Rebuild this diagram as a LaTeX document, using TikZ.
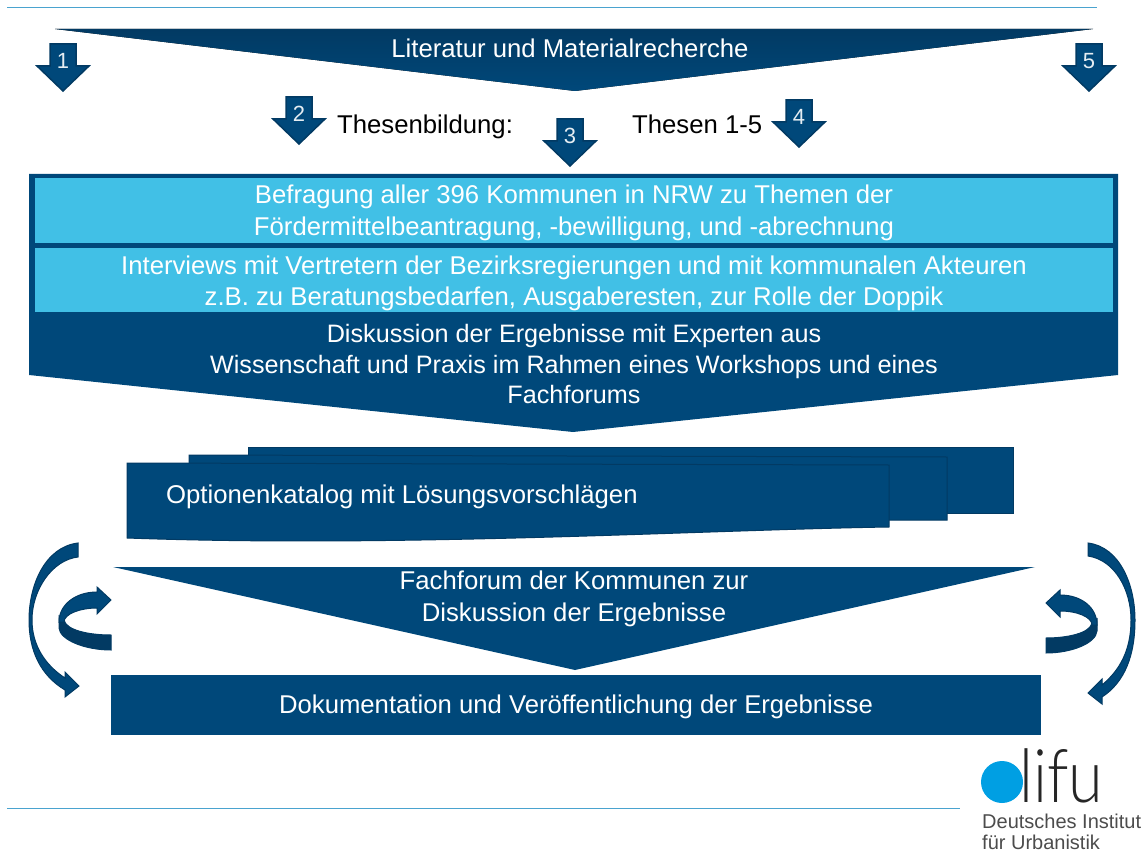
\documentclass[tikz,border=0pt]{standalone}
\usepackage{fontspec}
\setmainfont{Liberation Sans}
\newfontfamily\logofont{Lato Light}
\definecolor{navy}{HTML}{00487A}
\definecolor{navydark}{HTML}{023A63}
\definecolor{skyfill}{HTML}{41C0E6}
\definecolor{ruleblue}{HTML}{4AA3CF}
\definecolor{logoblue}{HTML}{009FE3}
\tikzset{
	banner/.style={fill=navy},
	bannertext/.style={text=white,align=center,font=\fontsize{25.7}{31.3}\selectfont,inner sep=0pt},
	blacktext/.style={text=black,font=\fontsize{25.7}{31.3}\selectfont,inner sep=0pt},
	numarrow/.style={fill=navy,draw=navydark,line width=1.5pt,line join=miter},
	numtext/.style={text=white!90!navy,font=\fontsize{22}{22}\selectfont,inner sep=0pt},
	swoosh/.style={fill=navy,draw=navydark,line width=1pt},
	swooshback/.style={fill=navydark,draw=navydark,line width=1pt},
	pagerule/.style={draw=ruleblue,line width=1pt},
	sheet/.style={fill=navy,draw=navydark,line width=1pt}
}
\begin{document}
\begin{tikzpicture}[x=1pt,y=-1pt]
	\useasboundingbox (0,0) rectangle (1143,853);
	\draw[pagerule] (7,8) -- (1097,8);
	\draw[pagerule] (7,808) -- (960,808);
	% top banner
	\fill[top color=navydark,bottom color=navy] (55,29) -- (1093,29) -- (575,91) -- cycle;
	\node[bannertext] (litnode) at (570,48) {Literatur und Materialrecherche};
	% numbered arrows
	\foreach \cx/\ty/\nr in {63/43/1,299/96/2,570/118/3,799/99/4,1089/43/5}{
		\draw[numarrow] (\cx-13,\ty+1) -- (\cx+13,\ty+1) -- (\cx+13,\ty+23) -- (\cx+26,\ty+23) -- (\cx,\ty+48) -- (\cx-26,\ty+23) -- (\cx-13,\ty+23) -- cycle;
		\node[numtext] (arrow\nr) at (\cx,\ty+18) {\nr};
	}
	\node[blacktext,anchor=west] (thesenbildung) at (337,127) {Thesenbildung:};
	\node[blacktext,anchor=west] (thesenlist) at (632,124) {Thesen 1-5};
	% survey block
	\fill[navy] (29,174) -- (1118,174) -- (1118,375) -- (573,432) -- (29,375) -- cycle;
	\fill[skyfill] (35,178) rectangle (1113,243);
	\fill[skyfill] (35,248) rectangle (1113,312);
	\node[bannertext] (befragung) at (574,213) {Befragung aller 396 Kommunen in NRW zu Themen der\\Fördermittelbeantragung, -bewilligung, und -abrechnung};
	\node[bannertext] (interviews) at (574,283.5) {Interviews mit Vertretern der Bezirksregierungen und mit kommunalen Akteuren\\z.B. zu Beratungsbedarfen, Ausgaberesten, zur Rolle der Doppik};
	\node[bannertext,font=\fontsize{25.2}{30.5}\selectfont] (diskussion) at (574,364) {Diskussion der Ergebnisse mit Experten aus\\Wissenschaft und Praxis im Rahmen eines Workshops und eines\\Fachforums};
	% stacked sheets
	\fill[sheet] (248,447) -- (1013,447) -- (1013,513) -- (248,513) -- cycle;
	\draw[sheet] (189,455) -- (947,457) -- (947,520) -- (189,520) -- cycle;
	\draw[sheet] (127,463) -- (889,465) -- (889,527) .. controls (700,530) and (400,548) .. (127,538) -- cycle;
	\node[bannertext,anchor=west] (optionen) at (166,497) {Optionenkatalog mit Lösungsvorschlägen};
	% lower banner
	\fill[banner] (113,567) -- (1035,567) -- (575,670) -- cycle;
	\node[bannertext] (fachforum) at (574,599) {Fachforum der Kommunen zur\\Diskussion der Ergebnisse};
	\fill[banner] (111,675) rectangle (1041,735);
	\node[bannertext] (doku) at (576,707) {Dokumentation und Veröffentlichung der Ergebnisse};
	% left swooshes
	\draw[swoosh] (78,543) .. controls (45,547) and (29,585) .. (29,620) .. controls (29,650) and (40,675) .. (65,690) -- (65,697) -- (79,686) -- (65,672) -- (65,678) .. controls (45,665) and (32,645) .. (32,620) .. controls (32,590) and (52,560) .. (78,557) -- cycle;
	\draw[swooshback] (59,616) -- (59,628) .. controls (60,640) and (85,650) .. (111,650) -- (111,635) .. controls (88,635) and (66,630) .. (64,620) -- cycle;
	\draw[swoosh] (59,622) .. controls (59,605) and (75,592) .. (97,592) -- (97,587) -- (111,600) -- (97,614) -- (97,608) .. controls (80,608) and (64,614) .. (64,622) -- cycle;
	% right swooshes
	\draw[swoosh] (1088,543) .. controls (1120,547) and (1135,585) .. (1135,620) .. controls (1135,655) and (1125,682) .. (1102,697) -- (1102,704) -- (1088,693) -- (1102,679) -- (1102,685) .. controls (1120,670) and (1131,650) .. (1131,620) .. controls (1131,590) and (1115,560) .. (1088,556) -- cycle;
	\draw[swooshback] (1097,619) -- (1097,631) .. controls (1096,643) and (1072,653) .. (1046,653) -- (1046,638) .. controls (1068,638) and (1090,633) .. (1092,623) -- cycle;
	\draw[swoosh] (1097,625) .. controls (1097,608) and (1082,595) .. (1060,595) -- (1060,590) -- (1046,603) -- (1060,617) -- (1060,611) .. controls (1077,611) and (1092,617) .. (1092,625) -- cycle;
	% logo
	\fill[logoblue] (1002,782) circle (21);
	\node[inner sep=0pt,anchor=base west,text=black!85,xscale=.85,transform shape,font=\fontsize{74}{74}\logofont] (lifu) at (1019,802) {lifu};
	\node[inner sep=0pt,anchor=west,align=left,text=black!70,font=\fontsize{20}{21}\selectfont] (institut) at (982,832) {Deutsches Institut\\für Urbanistik};
\end{tikzpicture}
\end{document}
